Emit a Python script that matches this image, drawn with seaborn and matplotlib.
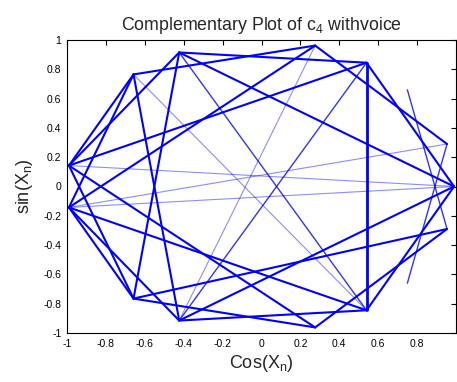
import numpy as np
import pandas as pd
import matplotlib
matplotlib.use("Agg")
import matplotlib.pyplot as plt
import seaborn as sns

# Vertices on the unit circle
vertex_names = ["A", "B+", "B-", "C+", "C-", "D+", "D-", "E+", "E-",
                "F+", "F-", "G+", "G-", "H+", "H-"]
vertex_x = [0.99, 0.954, 0.954, 0.75, 0.75, 0.54, 0.54, 0.276, 0.276,
            -0.423, -0.423, -0.658, -0.658, -0.99, -0.99]
vertex_y = [0.0, 0.29, -0.29, 0.66, -0.66, 0.845, -0.845, 0.962, -0.962,
            0.915, -0.915, 0.765, -0.765, 0.143, -0.143]

# Segments (start, end) grouped by how strongly they are drawn
heavy_segments = [("D+", "D-")]
thick_segments = [("F+", "D+"), ("G+", "E+"), ("F+", "H+"), ("F+", "G-"),
                  ("F+", "A"), ("G+", "H-"), ("H+", "D+"), ("H+", "E-"),
                  ("H-", "E+"), ("G+", "F-"), ("D+", "A"), ("F-", "A"),
                  ("D-", "A"), ("G-", "B-"), ("E-", "B-"), ("F-", "D-"),
                  ("G-", "E-"), ("H-", "D-"), ("G+", "H+"), ("G-", "H-"),
                  ("H+", "G-"), ("H-", "F-"), ("E+", "B+")]
medium_segments = [("F+", "D-"), ("D+", "F-"), ("C+", "B-"), ("C-", "B+")]
light_segments = [("H+", "A"), ("H-", "A"), ("H-", "B+"), ("G+", "D-"),
                  ("E+", "F-")]

xticks = [-1, -0.8, -0.6, -0.4, -0.2, 0, 0.2, 0.4, 0.6, 0.8]
yticks = [-1, -0.8, -0.6, -0.4, -0.2, 0, 0.2, 0.4, 0.6, 0.8, 1]

sns.set_style("white")
plt.rcParams["font.family"] = ["Liberation Sans", "DejaVu Sans"]
plt.rcParams["mathtext.fontset"] = "custom"
plt.rcParams["mathtext.rm"] = "Liberation Sans"
plt.rcParams["mathtext.it"] = "Liberation Sans:italic"

pos = {n: (x, y) for n, x, y in zip(vertex_names, vertex_x, vertex_y)}


def seg_frame(segs):
    rows = []
    for i, (a, b) in enumerate(segs):
        for k, n in enumerate((a, b)):
            rows.append({"seg": i, "order": k, "x": pos[n][0], "y": pos[n][1]})
    return pd.DataFrame(rows)


fig = plt.figure(figsize=(4.57, 3.82), dpi=100)
ax = fig.add_axes([67 / 457, 49 / 382, 389 / 457, 293 / 382])

styles = [
    (light_segments, 0.8, 0.45),
    (medium_segments, 1.0, 0.8),
    (thick_segments, 1.5, 1.0),
    (heavy_segments, 2.0, 1.0),
]
for segs, lw, alpha in styles:
    df = seg_frame(segs)
    sns.lineplot(data=df, x="x", y="y", units="seg", estimator=None,
                 sort=False, color=(0, 0, 1), lw=lw, alpha=alpha, ax=ax,
                 legend=False)

ax.set_xlim(-1, 1)
ax.set_ylim(-1, 1)
ax.set_xticks(xticks)
ax.set_xticklabels([f"{t:g}" for t in xticks])
ax.set_yticks(yticks)
ax.set_yticklabels([f"{t:g}" for t in yticks])
ax.tick_params(direction="in", length=3.5, width=0.8, top=True, right=True,
               labelsize=7.5, pad=4, colors="black")
for s in ax.spines.values():
    s.set_visible(True)
    s.set_color("black")
    s.set_linewidth(0.8)

ax.set_xlabel("Cos(X$_\\mathrm{n}$)", fontsize=13, labelpad=3)
ax.set_ylabel("sin(X$_\\mathrm{n}$)", fontsize=13, labelpad=6)
ax.set_title("Complementary Plot of c$_\\mathrm{4}$ withvoice", fontsize=12.8,
             pad=7)

fig.savefig("out.png", dpi=100)
